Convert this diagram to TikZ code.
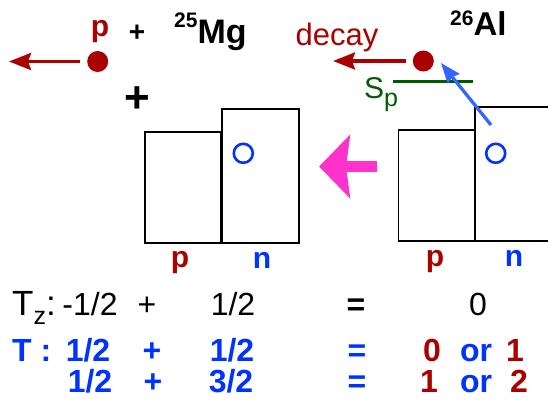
\documentclass[tikz,border=0pt]{standalone}
\usepackage{fontspec}
\setmainfont{Liberation Sans}
\usetikzlibrary{arrows.meta}
\definecolor{dred}{RGB}{170,0,0}
\definecolor{nblue}{RGB}{0,51,255}
\definecolor{jblue}{RGB}{51,102,255}
\definecolor{sgreen}{RGB}{0,90,0}
\definecolor{hotpink}{RGB}{255,51,204}
\newcommand{\fsz}[1]{\fontsize{#1}{#1}\selectfont}

\begin{document}
\begin{tikzpicture}[x=1pt, y=-1pt,
  txt/.style  ={font=\fsz{30}, inner sep=0pt, anchor=base},
  btxt/.style ={txt, font=\fsz{30}\bfseries},
  row/.style  ={txt, font=\fsz{32}},
  brow/.style ={txt, font=\fsz{32}\bfseries},
  shell/.style={draw, line width=1.2pt, minimum width=77pt, inner sep=0pt},
  nucl/.style ={circle, fill=dred, minimum size=21pt, inner sep=0pt},
  hole/.style ={circle, draw=nblue, line width=2.6pt, minimum size=19pt, inner sep=0pt},
  emit/.style ={draw=dred, line width=3.5pt, shorten <=7pt, -{Stealth[length=22pt, width=17pt, inset=3pt]}},
]
  \clip (0,0) rectangle (548,400);

  % final state: p + 25Mg
  \node[btxt, text=dred]                               (pTop)  at (100,36) {p};
  \node[btxt, font=\fsz{28}\bfseries]                  (plusA) at (137,41) {+};
  \node[btxt, anchor=base west, font=\fsz{34}\bfseries] (mg)   at (174,43) {\raisebox{16pt}{\fsz{21}25}Mg};
  \node[nucl]                                          (pL)    at (97.7,61.5) {};
  \coordinate (escL) at (9,61.5);
  \draw[emit] (pL) -- (escL);
  \node[btxt, font=\fsz{44}\bfseries]                  (plusB) at (137,112) {+};

  % initial state: 26Al
  \node[btxt, anchor=base west, font=\fsz{33}\bfseries] (al)   at (450,35) {\raisebox{10pt}{\fsz{21}26}Al};
  \node[txt, text=dred, font=\fsz{31}]                 (decay) at (337,45) {decay};
  \node[nucl]                                          (pR)    at (423.3,61) {};
  \coordinate (escR) at (333,61);
  \draw[emit] (pR) -- (escR);

  \coordinate (spA) at (393,81.5);
  \coordinate (spB) at (473,81.5);
  \draw[sgreen, line width=2.6pt] (spA) -- (spB);
  \node[txt, text=sgreen, anchor=base west] (sp) at (364,98) {S\raisebox{-8pt}{\fsz{25}p}};

  % shells
  \node[shell, minimum width=76pt, minimum height=111pt] (pShL) at (183,187.5) {};
  \node[shell, minimum height=134pt]                    (nShL) at (260.5,176) {};
  \node[shell, minimum width=76pt, minimum height=111pt] (pShR) at (436.5,185.5) {};
  \node[shell, minimum height=134pt]                    (nShR) at (513.5,174) {};
  \node[hole] (hL) at (243.3,153.3) {};
  \node[hole] (hR) at (495.7,153.3) {};

  \coordinate (jmpA) at (491,125);
  \coordinate (jmpB) at (441,63);
  \draw[jblue, line width=3.3pt, -{Stealth[length=20pt, width=15pt, inset=2pt]}] (jmpA) -- (jmpB);

  \coordinate (pkA) at (377,166.5);
  \coordinate (pkB) at (319,166.5);
  \draw[hotpink, line width=11.3pt, -{Stealth[length=31pt, width=63pt, inset=4pt]}] (pkA) -- (pkB);

  \node[btxt, text=dred]  (lpL) at (180,267) {p};
  \node[btxt, text=nblue] (lnL) at (262,268) {n};
  \node[btxt, text=dred]  (lpR) at (435,266) {p};
  \node[btxt, text=nblue] (lnR) at (514,266) {n};

  % isospin bookkeeping
  \node[row, anchor=base west, font=\fsz{35}] (tz) at (12,315) {T\raisebox{-9pt}{\fsz{25}z}:};
  \node[row]  (tzA) at (90,315)  {-1/2};
  \node[row]  (tzP) at (147,315) {+};
  \node[row]  (tzB) at (233,315) {1/2};
  \node[brow] (tzE) at (356,315) {=};
  \node[row]  (tzS) at (478,315) {0};

  \node[brow, text=nblue, anchor=base west] (tt) at (12,361) {T :};
  \node[brow, text=nblue] (tA1) at (88,361)  {1/2};
  \node[brow, text=nblue] (tP1) at (152,361) {+};
  \node[brow, text=nblue] (tB1) at (232,361) {1/2};
  \node[brow, text=nblue] (tE1) at (357,361) {=};
  \node[brow, text=dred]  (tS1) at (432,361) {0};
  \node[brow, text=nblue] (tO1) at (476,361) {or};
  \node[brow, text=dred]  (tU1) at (515,361) {1};

  \node[brow, text=nblue] (tA2) at (90,392)  {1/2};
  \node[brow, text=nblue] (tP2) at (153,392) {+};
  \node[brow, text=nblue] (tB2) at (231,392) {3/2};
  \node[brow, text=nblue] (tE2) at (357,392) {=};
  \node[brow, text=dred]  (tS2) at (429,392) {1};
  \node[brow, text=nblue] (tO2) at (476,392) {or};
  \node[brow, text=dred]  (tU2) at (519,392) {2};
\end{tikzpicture}
\end{document}
